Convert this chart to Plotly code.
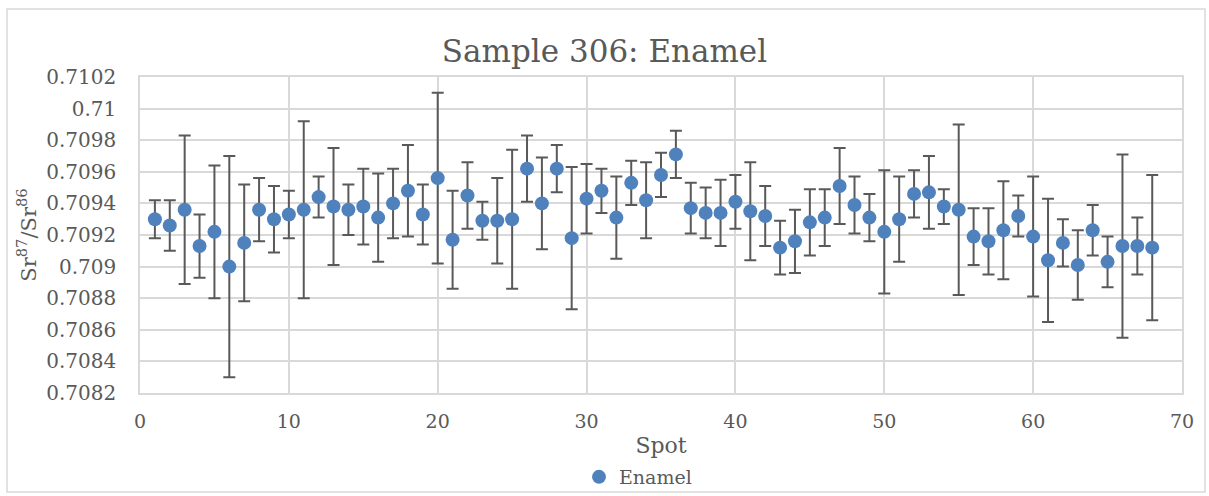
import plotly.graph_objects as go

spots = list(range(1, 69))
ratios = [0.70930, 0.70926, 0.70936, 0.70913, 0.70922, 0.70900, 0.70915, 0.70936, 0.70930, 0.70933,
          0.70936, 0.70944, 0.70938, 0.70936, 0.70938, 0.70931, 0.70940, 0.70948, 0.70933, 0.70956,
          0.70917, 0.70945, 0.70929, 0.70929, 0.70930, 0.70962, 0.70940, 0.70962, 0.70918, 0.70943,
          0.70948, 0.70931, 0.70953, 0.70942, 0.70958, 0.70971, 0.70937, 0.70934, 0.70934, 0.70941,
          0.70935, 0.70932, 0.70912, 0.70916, 0.70928, 0.70931, 0.70951, 0.70939, 0.70931, 0.70922,
          0.70930, 0.70946, 0.70947, 0.70938, 0.70936, 0.70919, 0.70916, 0.70923, 0.70932, 0.70919,
          0.70904, 0.70915, 0.70901, 0.70923, 0.70903, 0.70913, 0.70913, 0.70912]
errors = [0.00012, 0.00016, 0.00047, 0.00020, 0.00042, 0.00070, 0.00037, 0.00020, 0.00021, 0.00015,
          0.00056, 0.00013, 0.00037, 0.00016, 0.00024, 0.00028, 0.00022, 0.00029, 0.00019, 0.00054,
          0.00031, 0.00021, 0.00012, 0.00027, 0.00044, 0.00021, 0.00029, 0.00015, 0.00045, 0.00022,
          0.00014, 0.00026, 0.00014, 0.00024, 0.00014, 0.00015, 0.00016, 0.00016, 0.00021, 0.00017,
          0.00031, 0.00019, 0.00017, 0.00020, 0.00021, 0.00018, 0.00024, 0.00018, 0.00015, 0.00039,
          0.00027, 0.00015, 0.00023, 0.00011, 0.00054, 0.00018, 0.00021, 0.00031, 0.00013, 0.00038,
          0.00039, 0.00015, 0.00022, 0.00016, 0.00016, 0.00058, 0.00018, 0.00046]

ytick_vals = [0.7082, 0.7084, 0.7086, 0.7088, 0.7090, 0.7092, 0.7094, 0.7096, 0.7098, 0.7100, 0.7102]
ytick_text = ["0.7082", "0.7084", "0.7086", "0.7088", "0.709", "0.7092", "0.7094", "0.7096", "0.7098", "0.71", "0.7102"]
xtick_vals = [0, 10, 20, 30, 40, 50, 60, 70]

FONT = "DejaVu Serif"
GRID = "#d9d9d9"
TXT = "#595959"

fig = go.Figure()
fig.add_trace(go.Scatter(
    x=spots, y=ratios, mode="markers", name="Enamel",
    marker=dict(color="#4f81bd", size=14),
    error_y=dict(type="data", array=errors, visible=True, color="#595959", thickness=2, width=6),
))

L, R, T, B = 140, 27, 77, 103
W, H = 1209, 496
pw, ph = W - L - R, H - T - B

fig.update_layout(
    width=W, height=H,
    margin=dict(l=L, r=R, t=T, b=B, autoexpand=False),
    paper_bgcolor="white", plot_bgcolor="white",
    font=dict(family=FONT, color=TXT, size=19),
    title=dict(text="Sample 306: Enamel", x=0.5, xanchor="center", xref="container",
               y=1 - 51 / H, yanchor="middle", yref="container",
               font=dict(size=31, color=TXT, family=FONT)),
    showlegend=True,
    legend=dict(orientation="h", x=(638 - L) / pw, xanchor="center", xref="paper",
                y=1 - 477 / H, yanchor="middle", yref="container",
                bgcolor="rgba(0,0,0,0)",
                font=dict(size=19, color=TXT, family=FONT), itemwidth=30),
    xaxis=dict(range=[0, 70], tickvals=xtick_vals, showgrid=True, gridcolor=GRID, gridwidth=1.5,
               showline=True, linecolor=GRID, linewidth=1.5, mirror=True, zeroline=False,
               ticks="", ticklabelstandoff=10, tickfont=dict(size=19),
               title=dict(text="Spot", font=dict(size=22), standoff=15)),
    yaxis=dict(range=[0.7082, 0.7102], tickvals=ytick_vals, ticktext=ytick_text, showgrid=True,
               gridcolor=GRID, gridwidth=1.5, showline=True, linecolor=GRID, linewidth=1.5, mirror=True,
               zeroline=False, ticks="", ticklabelstandoff=18, tickfont=dict(size=20),
               title=dict(text="Sr<sup>87</sup>/Sr<sup>86</sup>", font=dict(size=21), standoff=4)),
    shapes=[dict(type="rect", xref="paper", yref="paper",
                 x0=(7 - L) / pw, x1=(1205 - L) / pw, y0=(H - B - 492) / ph, y1=(H - B - 9) / ph,
                 line=dict(color=GRID, width=1.5), fillcolor="rgba(0,0,0,0)", layer="below")],
)

fig.write_html("out.html", config={"displayModeBar": False},
               post_script="document.body.style.margin='0';document.body.style.overflow='hidden';")
